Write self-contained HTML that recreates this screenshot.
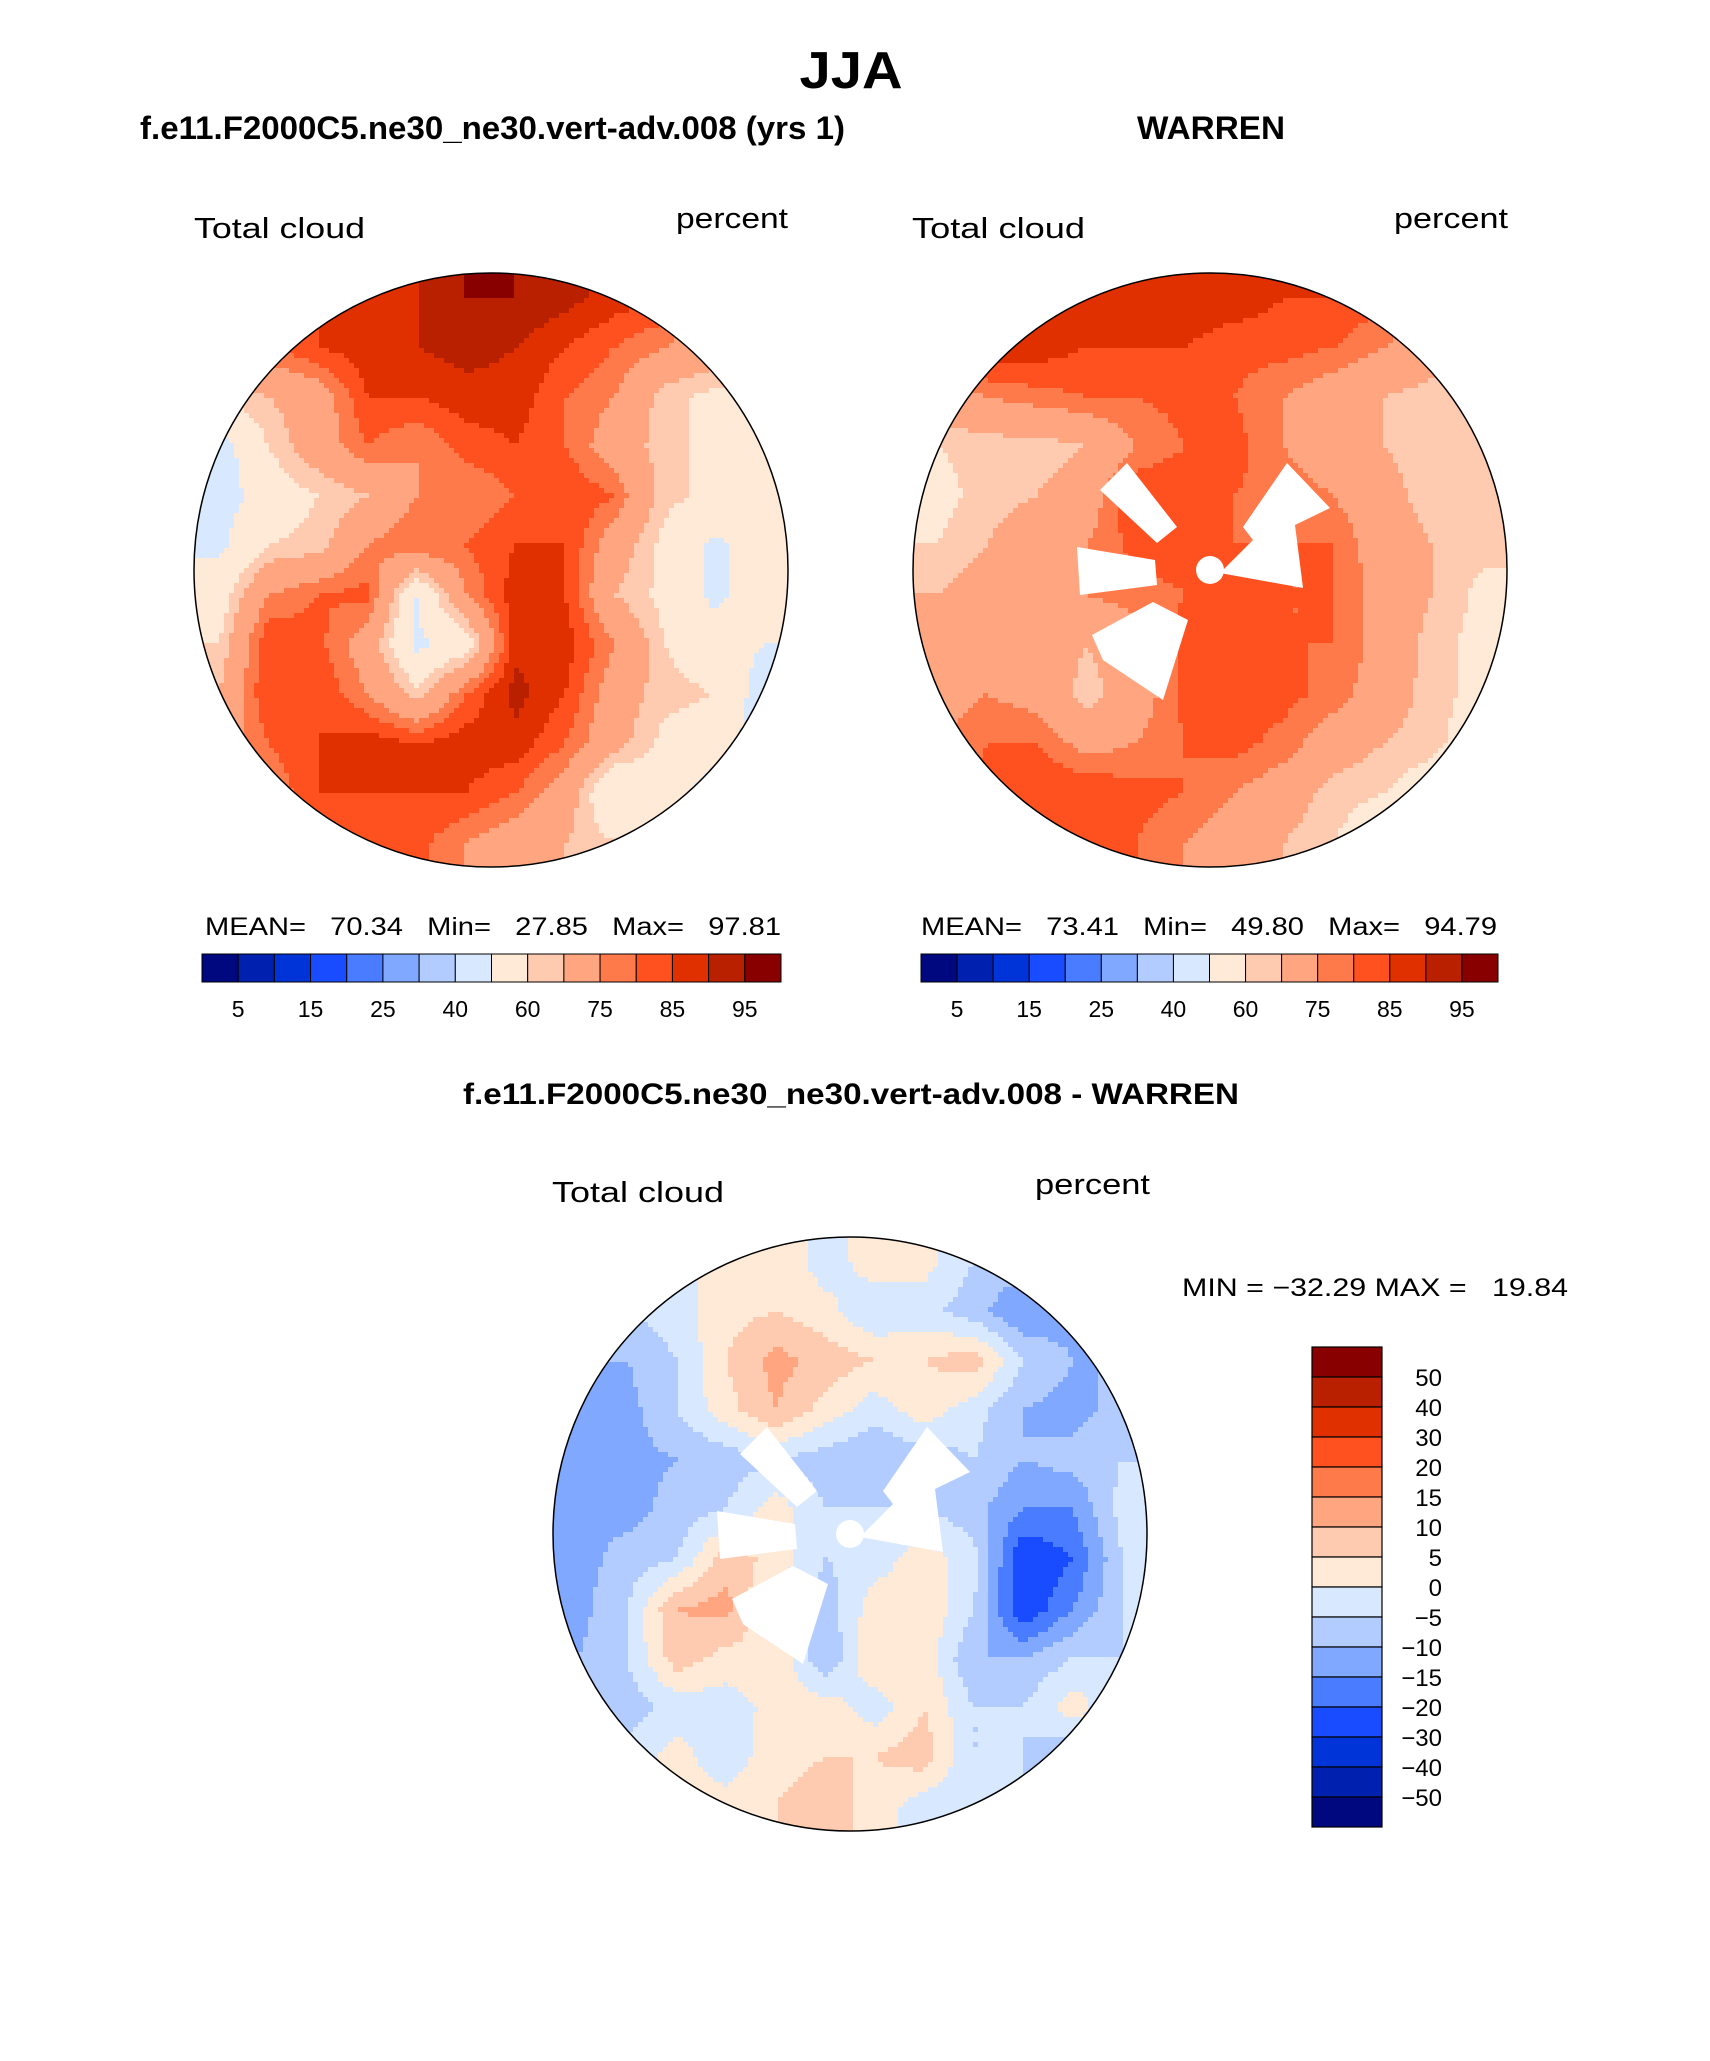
<!DOCTYPE html>
<html><head><meta charset="utf-8"><style>
html,body{margin:0;padding:0;background:#fff}
svg{display:block}
text{font-family:"Liberation Sans",sans-serif}
</style></head><body>
<svg id="fig" xmlns="http://www.w3.org/2000/svg" width="1710" height="2061" viewBox="0 0 1710 2061">
<text x="851" y="88" font-size="52" font-weight="bold" text-anchor="middle" textLength="103" lengthAdjust="spacingAndGlyphs">JJA</text>
<text x="140" y="139" font-size="32" font-weight="bold" textLength="705" lengthAdjust="spacingAndGlyphs">f.e11.F2000C5.ne30_ne30.vert-adv.008 (yrs 1)</text>
<text x="1137" y="139" font-size="32" font-weight="bold" textLength="148" lengthAdjust="spacingAndGlyphs">WARREN</text>
<text x="194" y="238" font-size="29" textLength="171" lengthAdjust="spacingAndGlyphs">Total cloud</text>
<text x="676" y="228" font-size="29" textLength="112" lengthAdjust="spacingAndGlyphs">percent</text>
<text x="912" y="238" font-size="29" textLength="173" lengthAdjust="spacingAndGlyphs">Total cloud</text>
<text x="1394" y="228" font-size="29" textLength="114" lengthAdjust="spacingAndGlyphs">percent</text>
<text x="205" y="935" font-size="25" xml:space="preserve" textLength="576" lengthAdjust="spacingAndGlyphs">MEAN=   70.34   Min=   27.85   Max=   97.81</text>
<text x="921" y="935" font-size="25" xml:space="preserve" textLength="576" lengthAdjust="spacingAndGlyphs">MEAN=   73.41   Min=   49.80   Max=   94.79</text>
<text x="851" y="1104" font-size="30" font-weight="bold" text-anchor="middle" textLength="776" lengthAdjust="spacingAndGlyphs">f.e11.F2000C5.ne30_ne30.vert-adv.008 - WARREN</text>
<text x="552" y="1202" font-size="29" textLength="172" lengthAdjust="spacingAndGlyphs">Total cloud</text>
<text x="1035" y="1194" font-size="29" textLength="115" lengthAdjust="spacingAndGlyphs">percent</text>
<text x="1182" y="1296" font-size="25" xml:space="preserve" textLength="386" lengthAdjust="spacingAndGlyphs">MIN = −32.29 MAX =   19.84</text>
<g id="maps"></g>
</svg>
<script>
const colors=["#00087f","#0020b0","#0034d8","#1a4cff","#4a7cff","#80a8ff","#b3ccff","#d8e8ff","#ffead8","#ffcbb0","#ffa680","#ff7a4a","#ff5020","#e03000","#b82000","#880000"];
const absLevels=[5,10,15,20,25,30,40,50,60,65,75,80,85,90,95];
const absTickLabels=["5","15","25","40","60","75","85","95"];
const diffLevels=[-50,-40,-30,-20,-15,-10,-5,0,5,10,15,20,30,40,50];
const diffTickLabels=["50","40","30","20","15","10","5","0","−5","−10","−15","−20","−30","−40","−50"];
const modelCloud=[
[85,85,85,88,90,95,95,92,88,85,75,70],
[80,80,85,88,90,92,90,85,80,75,70,65],
[60,65,70,85,85,88,88,80,75,62,58,55],
[45,60,70,80,75,82,85,80,70,62,58,50],
[45,55,60,65,75,75,80,85,80,62,58,55],
[48,60,62,75,80,80,85,85,70,58,48,55],
[55,75,80,82,50,75,88,85,65,58,48,55],
[60,85,82,70,48,55,88,88,75,60,55,50],
[65,85,85,75,62,80,92,85,70,62,60,45],
[70,80,85,88,85,88,88,80,68,58,55,45],
[75,75,85,85,85,85,80,70,50,55,45,45],
[80,80,80,80,82,75,70,65,60,55,50,45]];
const warrenCloud=[
[88,88,90,88,85,88,88,85,85,82,80,75],
[88,90,88,85,85,85,82,82,80,75,70,65],
[70,75,78,80,80,82,80,75,70,65,62,60],
[60,62,62,65,75,80,82,75,70,65,62,62],
[58,62,65,70,85,85,80,78,75,68,62,62],
[60,65,72,75,82,82,80,80,80,70,65,62],
[65,70,75,75,78,80,80,80,80,72,65,58],
[65,70,72,65,70,82,85,80,80,72,62,58],
[70,75,72,62,70,82,82,82,78,70,62,58],
[75,80,80,72,75,80,82,78,70,65,62,55],
[80,82,85,85,82,80,75,70,62,60,55,50],
[82,82,82,82,80,75,70,65,60,55,50,50]];
const diffCloud=[
[-3,-3,-2,3,5,-3,3,2,-5,-8,-10,-10],
[-5,-5,-2,3,5,2,-5,-3,-8,-15,-12,-10],
[-10,-10,-5,5,12,8,5,5,8,-5,-10,-10],
[-15,-12,-5,3,10,3,-3,3,-3,-10,-12,-8],
[-15,-12,-10,-8,-5,-8,-10,-8,-5,-10,-8,-5],
[-10,-12,-8,-5,3,-5,-5,-5,-8,-15,-15,-3],
[-12,-8,-5,8,3,-5,-3,3,-3,-25,-20,-5],
[-12,-5,10,12,-3,-8,3,5,-5,-25,-15,-5],
[-10,-5,8,3,5,-10,5,3,-10,-10,-5,-5],
[-8,-8,-3,-3,2,3,-3,5,-5,-5,3,-5],
[-5,-3,2,-3,3,5,5,8,-5,-5,-10,-8],
[-3,-3,2,2,5,8,3,-3,-5,-5,-8,-8]];

const NS="http://www.w3.org/2000/svg";
const root=document.getElementById('maps');
function el(t,a,p){const e=document.createElementNS(NS,t);for(const k in a)e.setAttribute(k,a[k]);(p||root).appendChild(e);return e;}
function colorFor(v,levels){let i=0;while(i<levels.length&&v>=levels[i])i++;return colors[i];}
function sample(grid,gx,gy){
  const n=grid.length;
  gx=Math.max(0,Math.min(n-1,gx));gy=Math.max(0,Math.min(n-1,gy));
  const x0=Math.floor(gx),y0=Math.floor(gy),x1=Math.min(n-1,x0+1),y1=Math.min(n-1,y0+1);
  const fx=gx-x0,fy=gy-y0;
  return grid[y0][x0]*(1-fx)*(1-fy)+grid[y0][x1]*fx*(1-fy)+grid[y1][x0]*(1-fx)*fy+grid[y1][x1]*fx*fy;
}
const maskWedges=[
 [[-83,-107],[-33,-43],[-53,-27],[-110,-80]],
 [[77,-107],[120,-62],[85,-45],[93,18],[10,3],[43,-30],[33,-43]],
 [[-118,65],[-57,32],[-22,50],[-47,130],[-107,90]],
 [[-133,-23],[-55,-10],[-53,15],[-130,25]]];
function drawMap(name,cx,cy,r,grid,levels,masked){
  const g=el('g',{});
  
  
  const cid='clip-'+name;
  const cp=el('clipPath',{id:cid},g);el('circle',{cx:cx,cy:cy,r:r},cp);
  const f=el('g',{'clip-path':'url(#'+cid+')'},g);
  const n=grid.length,cell=2*r/n,step=5;
  function flush(x0,x1,y,col){
    const rc=el('rect',{x:x0,y:y,width:x1-x0+0.6,height:step+0.6,fill:col},f);
    
    
  }
  for(let y=cy-r;y<cy+r;y+=step){
    let runStart=cx-r,runCol=null,x;
    for(x=cx-r;x<cx+r;x+=step){
      const v=sample(grid,(x+step/2-(cx-r))/cell-0.5,(y+step/2-(cy-r))/cell-0.5);
      const col=colorFor(v,levels);
      if(col!==runCol){
        if(runCol)flush(runStart,x,y,runCol);
        runStart=x;runCol=col;
      }
    }
    if(runCol)flush(runStart,x,y,runCol);
  }
  if(masked){
    maskWedges.forEach(w=>{const p=el('polygon',{points:w.map(q=>(cx+q[0])+','+(cy+q[1])).join(' '),fill:'#fff'},f);
      
      });
    const pc=el('circle',{cx:cx,cy:cy,r:14,fill:'#fff'},f);
    
    
  }
  const ring=el('circle',{cx:cx,cy:cy,r:r,fill:'none',stroke:'#000','stroke-width':1.5},g);
  
  
}
function hbar(name,x0,y0,w,h,tickLabels){
  const g=el('g',{});
  
  
  const bw=w/colors.length;
  colors.forEach((c,i)=>{const r=el('rect',{x:x0+i*bw,y:y0,width:bw,height:h,fill:c,stroke:'#000','stroke-width':1},g);
    
    });
  tickLabels.forEach((t,i)=>{const tx=el('text',{x:x0+(2*i+1)*bw,y:y0+h+35,'font-size':23,'text-anchor':'middle'},g);tx.textContent=t;
    
    });
}
function vbar(name,x0,y0,w,h,tickLabels){
  const g=el('g',{});
  
  
  const bh=h/colors.length;
  colors.slice().reverse().forEach((c,i)=>{const r=el('rect',{x:x0,y:y0+i*bh,width:w,height:bh,fill:c,stroke:'#000','stroke-width':1.2},g);
    
    });
  tickLabels.forEach((t,i)=>{const tx=el('text',{x:x0+w+60,y:y0+(i+1)*bh+9,'font-size':24,'text-anchor':'end'},g);tx.textContent=t;
    
    });
}
drawMap('model-map',491,570,297,modelCloud,absLevels,false);
drawMap('warren-map',1210,570,297,warrenCloud,absLevels,true);
drawMap('difference-map',850,1534,297,diffCloud,diffLevels,true);
hbar('left-colorbar',202,954,579,28,absTickLabels);
hbar('right-colorbar',921,954,577,28,absTickLabels);
vbar('diff-colorbar',1312,1347,70,480,diffTickLabels);
</script>
</body></html>
